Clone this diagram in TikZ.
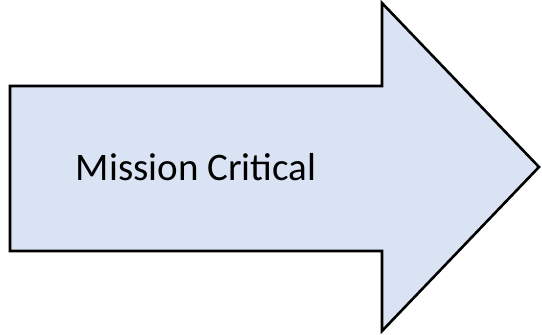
\documentclass[tikz,border=0pt]{standalone}
\usepackage{fontspec}
\setmainfont{Carlito}
\usetikzlibrary{positioning}
\definecolor{arrowfill}{HTML}{DAE3F3}

\begin{document}
\begin{tikzpicture}[x=1pt,y=-1pt]
          \useasboundingbox (0,0) rectangle (542,335);
          \draw[line width=2.6pt, fill=arrowfill, line join=miter]
            (10,86) -- (382,86) -- (382,3) -- (539,167) -- (382,331) -- (382,251) -- (10,251) -- cycle;
          \node[draw=none] (label) at (196,167) {\fontsize{39}{47}\selectfont Mission Critical}; % centred in the shaft
        \end{tikzpicture}
\end{document}
